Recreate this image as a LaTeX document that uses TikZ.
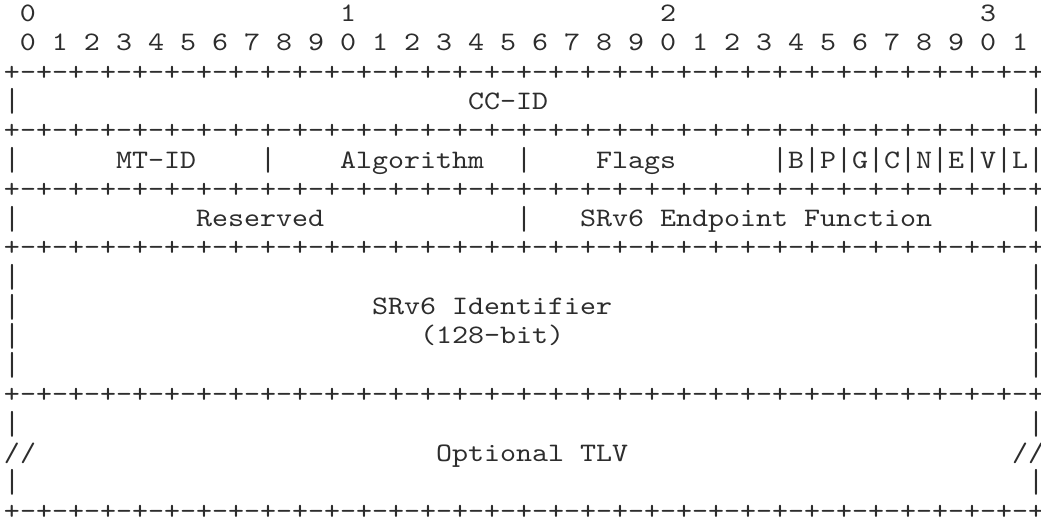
\documentclass[tikz,border=0pt]{standalone}
\usepackage{fontspec}
\usepackage{graphicx}
\setmonofont{Latin Modern Mono}[FakeStretch=1.142857]
\definecolor{ink}{RGB}{45,45,45}
\newcommand\colx[1]{(4+16*(#1))}
\newcommand\rowy[1]{(21.5+29.3*(#1-1))}
\newcommand\vb{\raisebox{-0.2em}{\resizebox{0.6em}{0.97em}{\raisebox{\depth}{|}}}}
\tikzset{
  tt/.style={font=\ttfamily\fontsize{10.667}{12}\selectfont, anchor=base west,
    inner sep=0pt, outer sep=0pt, text=ink},
}
\newcommand\bordertext{+-+-+-+-+-+-+-+-+-+-+-+-+-+-+-+-+-+-+-+-+-+-+-+-+-+-+-+-+-+-+-+-+}
\begin{document}
\begin{tikzpicture}[x=0.4pt,y=-0.4pt]
\useasboundingbox (0,0) rectangle (1041,523);
% line 1: tens digits
\node[tt] (t0) at ({\colx{1}},{\rowy{1}}) {0};
\node[tt] (t1) at ({\colx{21}},{\rowy{1}}) {1};
\node[tt] (t2) at ({\colx{41}},{\rowy{1}}) {2};
\node[tt] (t3) at ({\colx{61}},{\rowy{1}}) {3};
% line 2: unit digits
\foreach \i in {0,...,31}{
  \pgfmathtruncatemacro\d{mod(\i,10)}
  \node[tt] (u\i) at ({\colx{2*\i+1}},{\rowy{2}}) {\d};
}
% borders
\foreach \r in {3,5,7,9,14,18}{
  \node[tt] (b\r) at ({\colx{0}},{\rowy{\r}}) {\bordertext};
}
% side bars
\foreach \r in {4,6,8,10,11,12,13,15,17}{
  \node[tt] (l\r) at ({\colx{0}},{\rowy{\r}}) {\vb};
  \node[tt] (r\r) at ({\colx{64}},{\rowy{\r}}) {\vb};
}
% line 4
\node[tt] (ccid) at ({\colx{29}},{\rowy{4}}) {CC-ID};
% line 6
\node[tt] (mtid) at ({\colx{7}},{\rowy{6}}) {MT-ID};
\node[tt] (s6a) at ({\colx{16}},{\rowy{6}}) {\vb};
\node[tt] (algo) at ({\colx{21}},{\rowy{6}}) {Algorithm};
\node[tt] (s6b) at ({\colx{32}},{\rowy{6}}) {\vb};
\node[tt] (flags) at ({\colx{37}},{\rowy{6}}) {Flags};
\foreach \c in {48,50,...,62}{
  \node[tt] (fb\c) at ({\colx{\c}},{\rowy{6}}) {\vb};
}
\foreach \L [count=\k from 0] in {B,P,G,C,N,E,V,L}{
  \node[tt] (flag\L) at ({\colx{49+2*\k}},{\rowy{6}}) {\L};
}
% line 8
\node[tt] (resv) at ({\colx{12}},{\rowy{8}}) {Reserved};
\node[tt] (s8) at ({\colx{32}},{\rowy{8}}) {\vb};
\node[tt] (epf) at ({\colx{36}},{\rowy{8}}) {SRv6 Endpoint Function};
% lines 11-12
\node[tt] (sid) at ({\colx{23}},{\rowy{11}}) {SRv6 Identifier};
\node[tt] (bits128) at ({\colx{26}},{\rowy{12}}) {(128-bit)};
% line 16
\node[tt] (sl) at ({\colx{0}},{\rowy{16}}) {//};
\node[tt] (tlv) at ({\colx{27}},{\rowy{16}}) {Optional TLV};
\node[tt] (sr) at ({\colx{63}},{\rowy{16}}) {//};
\end{tikzpicture}
\end{document}
